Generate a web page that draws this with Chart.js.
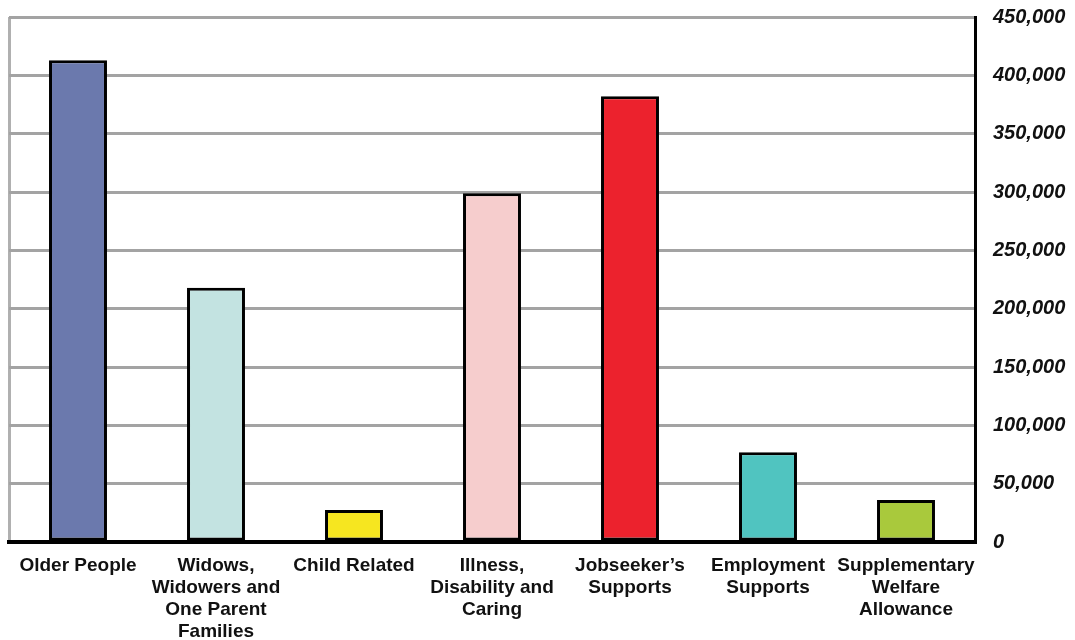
<!DOCTYPE html>
<html>
<head>
<meta charset="utf-8">
<script src="https://cdn.jsdelivr.net/npm/chart.js@4"></script>
<style>
  html, body { margin: 0; padding: 0; background: #fff; overflow: hidden; }
  #wrap { width: 1075px; height: 647px; margin-top: -7px; }
</style>
</head>
<body>
<div id="wrap"><canvas id="graphCanvas"></canvas></div>
<script>
const categories = [
    'Older People',
    ['Widows,', 'Widowers and', 'One Parent', 'Families'],
    'Child Related',
    ['Illness,', 'Disability and', 'Caring'],
    ['Jobseeker\u2019s', 'Supports'],
    ['Employment', 'Supports'],
    ['Supplementary', 'Welfare', 'Allowance']
];
const recipients = [413000, 218000, 27500, 299000, 382000, 77000, 36000];
const barColours = ['#6b79ad', '#c3e3e1', '#f6e620', '#f6cdcd', '#ec222d', '#50c4c0', '#a9c93c'];
const yTicks = [0, 50000, 100000, 150000, 200000, 250000, 300000, 350000, 400000, 450000];

let chartdata = {
    labels: categories,
    datasets: [{
        data: recipients,
        backgroundColor: barColours,
        borderColor: '#000',
        borderWidth: 3,
        borderSkipped: false,
        barPercentage: 0.42,
        categoryPercentage: 1
    }]
};

new Chart(document.getElementById('graphCanvas'), {
    type: 'bar',
    data: chartdata,
    options: {
        responsive: true,
        maintainAspectRatio: false,
        animation: false,
        layout: { padding: { left: 9, top: 9, right: 0, bottom: 0 } },
        plugins: { legend: { display: false }, tooltip: { enabled: false } },
        scales: {
            x: {
                grid: {
                    offset: true,
                    drawTicks: false,
                    lineWidth: 3,
                    color: ctx => ctx.index === 0 ? '#b0b0b0' : 'rgba(0,0,0,0)'
                },
                border: { color: '#000', width: 4 },
                ticks: {
                    autoSkip: false,
                    maxRotation: 0,
                    padding: 13,
                    color: '#111',
                    font: { family: 'Liberation Sans', weight: 'bold', size: 19, lineHeight: 1.16 }
                },
                afterFit: s => { s.height = 98; }
            },
            y: {
                position: 'right',
                min: 0,
                max: 450000,
                afterBuildTicks: s => { s.ticks = yTicks.map(v => ({ value: v })); },
                grid: { color: '#a3a3a3', lineWidth: 3, drawTicks: false },
                border: { color: '#000', width: 3 },
                ticks: {
                    padding: 18,
                    color: '#111',
                    font: { family: 'Liberation Sans', weight: 'bold', style: 'italic', size: 20, lineHeight: 0.6 },
                    callback: v => v.toLocaleString('en-US')
                },
                afterFit: s => { s.width = 100; }
            }
        }
    }
});
</script>
</body>
</html>
